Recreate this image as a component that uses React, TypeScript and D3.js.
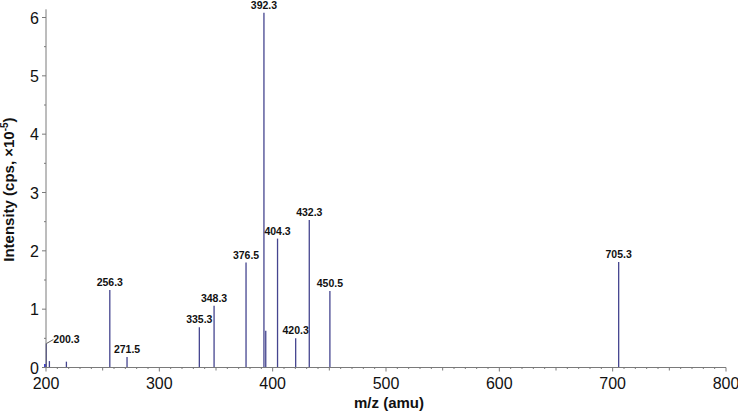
import React from "react";
import * as d3 from "d3";

const peakMz = [199.5, 200.3, 203.0, 218.0, 256.3, 271.5, 335.3, 348.3, 376.5, 392.3, 393.9, 404.3, 420.3, 432.3, 450.5, 705.3];
const peakIntensity = [0.06, 0.41, 0.11, 0.1, 1.33, 0.18, 0.69, 1.06, 1.8, 6.08, 0.63, 2.21, 0.5, 2.53, 1.31, 1.81];
const peakLabels = ["", "200.3", "", "", "256.3", "271.5", "335.3", "348.3", "376.5", "392.3", "", "404.3", "420.3", "432.3", "450.5", "705.3"];
const xTicks = [200, 300, 400, 500, 600, 700, 800];
const yTicks = [0, 1, 2, 3, 4, 5, 6];

export default function App() {
  const W = 738, H = 415;
  const x = d3.scaleLinear().domain([200, 800]).range([46, 726]);
  const y = d3.scaleLinear().domain([0, 6]).range([367.5, 17.5]);
  const axisColor = "#7a7a7a";
  const peakColor = "#45458f";
  const xMinor = d3.range(200, 801, 10);
  const yMinor = d3.range(0, 6.01, 0.5);
  const y0 = y(0);
  const labelFont = "Arial, 'Liberation Sans', sans-serif";

  return (
    <svg width={W} height={H} style={{ position: "absolute", left: 0, top: 0, background: "#fff" }}
      fontFamily="Arial, 'Liberation Sans', sans-serif">
      {/* peaks */}
      {peakMz.map((m, i) => (
        <line key={"p" + i} x1={x(m)} x2={x(m)} y1={y0} y2={y(peakIntensity[i])}
          stroke={i === 0 ? "#1a1acc" : peakColor} strokeWidth={i === 0 ? 2.5 : 1.3} />
      ))}
      {/* labels */}
      {peakMz.map((m, i) => {
        const lab = peakLabels[i];
        if (!lab) return null;
        if (lab === "200.3") {
          const px = x(m), py = y(peakIntensity[i]);
          return (
            <g key={"l" + i}>
              <line x1={px} y1={py} x2={px + 7} y2={py - 4} stroke="#333" strokeWidth={0.8} />
              <text x={px + 7} y={py - 1} fontSize={10.5} fontWeight="bold"
                fontFamily={labelFont} fill="#111">{lab}</text>
            </g>
          );
        }
        return (
          <text key={"l" + i} x={x(m)} y={y(peakIntensity[i]) - 4} textAnchor="middle" fontSize={10.5}
            fontWeight="bold" fontFamily={labelFont} fill="#111">{lab}</text>
        );
      })}
      {/* x axis */}
      <line x1={x(200)} x2={x(800)} y1={y0} y2={y0} stroke={axisColor} strokeWidth={1} />
      {xMinor.map((v) => (
        <line key={"xm" + v} x1={x(v)} x2={x(v)} y1={y0}
          y2={y0 + (v % 100 === 0 ? 4 : v % 50 === 0 ? 3 : 1.5)} stroke={axisColor} strokeWidth={1} />
      ))}
      {xTicks.map((v) => (
        <text key={"xt" + v} x={x(v)} y={y0 + 21} textAnchor="middle" fontSize={16} fill="#111">{v}</text>
      ))}
      {/* y axis */}
      <line x1={x(200)} x2={x(200)} y1={y0} y2={y(6.14)} stroke={axisColor} strokeWidth={1} />
      {yMinor.map((v) => (
        <line key={"ym" + v} x1={x(200)} x2={x(200) - (Math.abs(v - Math.round(v)) < 0.01 ? 4 : 2)}
          y1={y(v)} y2={y(v)} stroke={axisColor} strokeWidth={1} />
      ))}
      {yTicks.map((v) => (
        <text key={"yt" + v} x={39} y={y(v) + 6} textAnchor="end" fontSize={16} fill="#111">{v}</text>
      ))}
      {/* axis titles */}
      <text x={389} y={408} textAnchor="middle" fontSize={15} fontWeight="bold" fill="#111">m/z (amu)</text>
      <text transform={`translate(14, ${y(3.05)}) rotate(-90)`} textAnchor="middle" fontSize={15} fontWeight="bold" fill="#111">
        Intensity (cps, ×10<tspan dy={-6} fontSize={10}>-5</tspan><tspan dy={6}>)</tspan>
      </text>
    </svg>
  );
}
